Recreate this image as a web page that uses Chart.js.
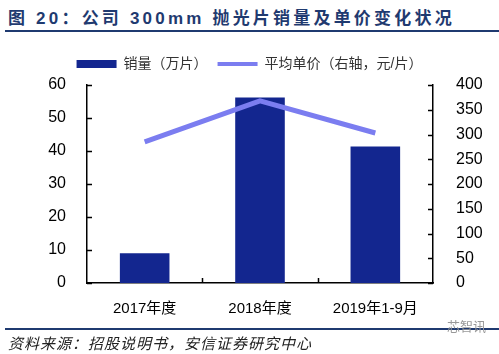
<!DOCTYPE html>
<html>
<head>
<meta charset="utf-8">
<script src="https://cdn.jsdelivr.net/npm/chart.js@4.4.0/dist/chart.umd.min.js"></script>
<style>
  html, body { margin: 0; padding: 0; background: #fff; }
  #wrap { position: relative; width: 499px; height: 354px; overflow: hidden; font-family: 'Liberation Sans', 'Noto Sans CJK SC', sans-serif; }
  #title { position: absolute; left: 8px; top: 4px; font-size: 17px; font-weight: bold; color: #1f3a70; letter-spacing: 3.2px; white-space: nowrap; }
  .rule { position: absolute; left: 5px; right: 0; height: 2px; background: #1f3a70; }
  #source { position: absolute; left: 8px; top: 332px; font-size: 15px; font-style: italic; color: #222; letter-spacing: 1px; white-space: nowrap; }
  #mark { position: absolute; left: 447px; top: 319px; font-size: 13px; line-height: 16px; color: #999; }
  #chartBox { position: absolute; left: 0; top: 0; width: 499px; height: 354px; }
</style>
</head>
<body>
<div id="wrap">
  <div id="title">图 20：公司 300mm 抛光片销量及单价变化状况</div>
  <div class="rule" style="top:30px"></div>
  <div id="chartBox"><canvas id="combo"></canvas></div>
  <div class="rule" style="top:328px;height:1.5px"></div>
  <div id="mark">芯智讯</div>
  <div id="source">资料来源：招股说明书，安信证券研究中心</div>
</div>
<script>
(function () {
    const categories = ['2017年度', '2018年度', '2019年1-9月'];
    const salesVolume = [9, 56.2, 41.4];      // 万片, left axis
    const avgPrice = [285, 368, 303];         // 元/片, right axis
    const leftTicks = [0, 10, 20, 30, 40, 50, 60];
    const rightTicks = [0, 50, 100, 150, 200, 250, 300, 350, 400];

    const barColor = '#13268f';
    const lineColor = '#7b7df0';
    const fontFamily = "'Liberation Sans', 'Noto Sans CJK SC', sans-serif";

    // axis tick marks drawn pointing into the plot
    const inwardTicks = {
        id: 'inwardTicks',
        afterDraw(chart) {
            const ctx = chart.ctx;
            const { left, right, bottom } = chart.chartArea;
            const y = chart.scales.y, y1 = chart.scales.y1, x = chart.scales.x;
            ctx.save();
            ctx.strokeStyle = '#000';
            ctx.lineWidth = 1.5;
            ctx.beginPath();
            y.ticks.forEach((t, i) => {
                const p = Math.round(y.getPixelForTick(i)) + 0.5;
                ctx.moveTo(left, p); ctx.lineTo(left + 5, p);
            });
            y1.ticks.forEach((t, i) => {
                const p = Math.round(y1.getPixelForTick(i)) + 0.5;
                ctx.moveTo(right, p); ctx.lineTo(right - 5, p);
            });
            for (let i = 1; i < x.ticks.length; i++) {
                const p = Math.round((x.getPixelForTick(i - 1) + x.getPixelForTick(i)) / 2) + 0.5;
                ctx.moveTo(p, bottom); ctx.lineTo(p, bottom - 5);
            }
            ctx.stroke();
            ctx.restore();
        }
    };

    // a bit more room under the legend
    const legendGap = {
        id: 'legendGap',
        afterInit(chart) {
            const lg = chart.legend;
            if (!lg) return;
            const fit = lg.fit;
            lg.fit = function () {
                fit.call(this);
                this.height += 4;
            };
        }
    };

    function init() {
        const canvas = document.getElementById('combo');
        new Chart(canvas.getContext('2d'), {
            data: {
                labels: categories,
                datasets: [{
                    type: 'line',
                    label: '平均单价（右轴，元/片）',
                    data: avgPrice,
                    yAxisID: 'y1',
                    borderColor: lineColor,
                    backgroundColor: lineColor,
                    borderWidth: 5,
                    pointRadius: 0,
                    tension: 0,
                    order: 0
                }, {
                    type: 'bar',
                    label: '销量（万片）',
                    data: salesVolume,
                    yAxisID: 'y',
                    backgroundColor: barColor,
                    borderColor: barColor,
                    borderWidth: 0,
                    barPercentage: 1,
                    categoryPercentage: 0.43,
                    order: 1
                }]
            },
            options: {
                responsive: true,
                maintainAspectRatio: false,
                animation: false,
                layout: { padding: { top: 47, left: 0, right: 0, bottom: 0 } },
                plugins: {
                    tooltip: { enabled: false },
                    legend: {
                        position: 'top',
                        reverse: true,
                        labels: {
                            usePointStyle: true,
                            pointStyleWidth: 40,
                            boxHeight: 8,
                            padding: 10,
                            color: '#333',
                            font: { family: fontFamily, size: 14 },
                            generateLabels(chart) {
                                const items = Chart.defaults.plugins.legend.labels.generateLabels(chart);
                                items.forEach(it => {
                                    const ds = chart.data.datasets[it.datasetIndex];
                                    if (ds.type === 'bar') {
                                        it.pointStyle = 'rect';
                                        it.lineWidth = 0;
                                    } else {
                                        it.pointStyle = 'line';
                                        it.lineWidth = 4;
                                    }
                                });
                                return items;
                            }
                        }
                    }
                },
                scales: {
                    x: {
                        offset: true,
                        grid: { display: false },
                        border: { display: true, color: '#000', width: 1.5 },
                        ticks: { color: '#000', padding: 9, font: { family: fontFamily, size: 15 } },
                        afterFit(scale) { scale.height = 71; }
                    },
                    y: {
                        position: 'left',
                        min: 0, max: 60,
                        afterBuildTicks(scale) { scale.ticks = leftTicks.map(v => ({ value: v })); },
                        grid: { display: false },
                        border: { display: true, color: '#000', width: 1.5 },
                        ticks: { color: '#000', padding: 13, font: { family: fontFamily, size: 16 } },
                        afterFit(scale) { scale.width = 87; }
                    },
                    y1: {
                        position: 'right',
                        min: 0, max: 400,
                        afterBuildTicks(scale) { scale.ticks = rightTicks.map(v => ({ value: v })); },
                        grid: { display: false },
                        border: { display: true, color: '#000', width: 1.5 },
                        ticks: { color: '#000', padding: 15, font: { family: fontFamily, size: 16 } },
                        afterFit(scale) { scale.width = 66; }
                    }
                }
            },
            plugins: [inwardTicks, legendGap]
        });
    }

    if (document.readyState === 'loading') {
        document.addEventListener('DOMContentLoaded', init);
    } else { init(); }
})();
</script>
</body>
</html>
